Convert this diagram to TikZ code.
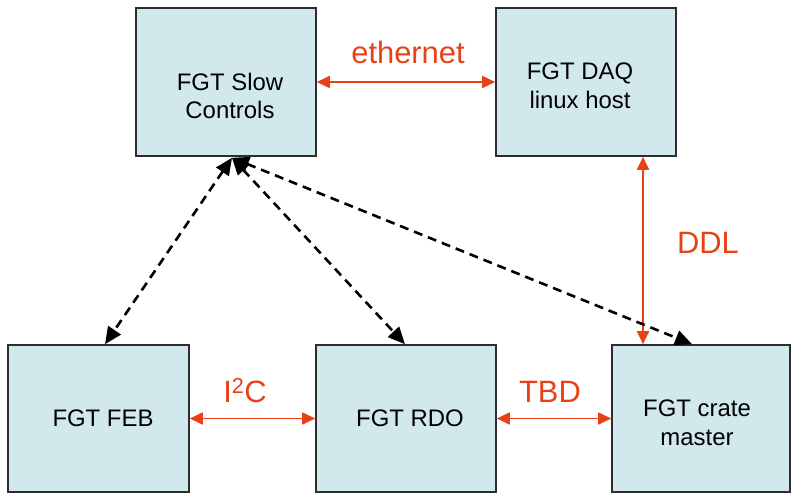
\documentclass[tikz,border=0pt]{standalone}
\usepackage{fontspec}
\setmainfont{Liberation Sans}
\usetikzlibrary{arrows.meta}
\definecolor{boxfill}{RGB}{209,233,237}
\definecolor{boxline}{RGB}{45,45,45}
\definecolor{linkred}{RGB}{232,65,24}
\begin{document}
\begin{tikzpicture}[x=1bp,y=-1bp,
  unit/.style={draw=boxline, line width=1.6bp, fill=boxfill, inner sep=0pt},
  txt/.style={font=\fontsize{24}{29}\selectfont, align=center, text=black, inner sep=0pt},
  rlab/.style={font=\fontsize{31}{36}\selectfont, text=linkred, inner sep=0pt, anchor=base},
  rlink/.style={draw=linkred, line width=1.8bp, {Triangle[length=13bp,width=12bp]}-{Triangle[length=13bp,width=12bp]}},
  dlink/.style={draw=black, line width=2.6bp, dash pattern=on 9bp off 6bp, {Triangle[length=17bp,width=15bp]}-{Triangle[length=17bp,width=15bp]}},
]
\useasboundingbox (0,0) rectangle (791,493);

% boxes
\node[unit, minimum width=180bp, minimum height=148bp] (sc) at (226,82) {};
\node[unit, minimum width=180bp, minimum height=148bp] (daq) at (586,82) {};
\node[unit, minimum width=181bp, minimum height=147bp] (feb) at (98.5,418.5) {};
\node[unit, minimum width=180bp, minimum height=147bp] (rdo) at (406,418.5) {};
\node[unit, minimum width=178bp, minimum height=147bp] (crate) at (701,418.5) {};

% box texts
\node[txt] (scT) at (230,96) {FGT Slow\\Controls};
\node[txt] (daqT) at (580,86) {FGT DAQ\\linux host};
\node[txt] (febT) at (103,418.5) {FGT FEB};
\node[txt] (rdoT) at (410,418.5) {FGT RDO};
\node[txt] (crateT) at (697,423) {FGT crate\\master};

% link labels
\node[rlab] (eth) at (408,64) {ethernet};
\node[rlab] (i2c) at (245,402) {I\textsuperscript{2}C};
\node[rlab] (tbd) at (550,402) {TBD};
\node[rlab] (ddl) at (708,254) {DDL};

% red links
\draw[rlink] (sc.east) -- (daq.west);
\draw[rlink] (feb.east) -- (rdo.west);
\draw[rlink] (rdo.east) -- (crate.west);
\draw[rlink] ([xshift=57bp]daq.south) -- ([xshift=-58bp]crate.north);

% dashed control links
\coordinate (hub) at ([xshift=6bp,yshift=-1bp]sc.south);
\draw[dlink] (hub) -- ([xshift=6.5bp]feb.north);
\draw[dlink] (hub) -- ([xshift=-1bp]rdo.north);
\draw[dlink] (hub) -- ([xshift=-9bp]crate.north);
\end{tikzpicture}
\end{document}
